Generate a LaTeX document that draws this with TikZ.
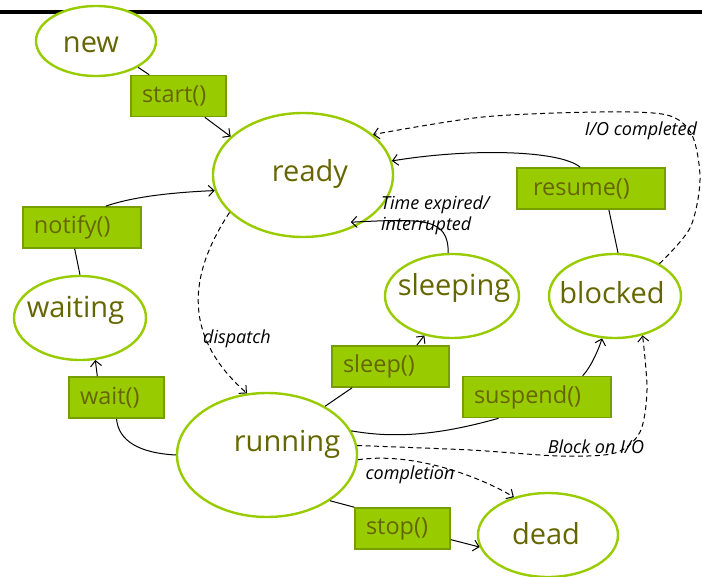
\documentclass[tikz,border=0pt]{standalone}
\usepackage{fontspec}
\setmainfont{Open Sans}
\usetikzlibrary{shapes.geometric,arrows.meta}
\definecolor{stateline}{RGB}{153,204,0}
\definecolor{opfill}{RGB}{153,204,0}
\definecolor{opline}{RGB}{119,158,0}
\definecolor{olivetext}{RGB}{102,102,0}

\begin{document}
\begin{tikzpicture}[x=1pt,y=-1pt,
	    state/.style={ellipse,draw=stateline,line width=2.4pt,fill=white,inner sep=0pt},
	    sname/.style={text=olivetext,font=\fontsize{29}{32}\selectfont},
	    op/.style={rectangle,fill=opfill,draw=opline,line width=1.6pt,inner xsep=11pt,inner ysep=0pt,
	        minimum height=41pt,align=left,text=olivetext,font=\fontsize{23.5}{26}\selectfont},
	    trans/.style={line width=1pt,-{Straight Barb[length=5.5pt,width=11pt]}},
	    dtrans/.style={trans,dash pattern=on 5pt off 3.5pt},
	    lbl/.style={inner sep=0pt,font=\fontsize{18}{21}\selectfont\itshape}]
	    \useasboundingbox (0,0) rectangle (702,577);
	    \draw [line width=4pt] (0,12) -- (702,12);
	    \node (new) [state,minimum width=120pt,minimum height=70pt,label={[sname,xshift=-5pt,yshift=-4pt]center:new}] at (96,41) {};
	    \node (ready) [state,minimum width=180pt,minimum height=124pt,label={[sname,xshift=7pt,yshift=1.5pt]center:ready}] at (303,175) {};
	    \node (running) [state,minimum width=180pt,minimum height=124pt,label={[sname,xshift=20pt,yshift=10.5pt]center:running}] at (267,455) {};
	    \node (sleeping) [state,minimum width=134pt,minimum height=84pt,label={[sname,xshift=2pt,yshift=8.5pt]center:sleeping}] at (452,296) {};
	    \node (blocked) [state,minimum width=132pt,minimum height=84pt,label={[sname,xshift=-3pt,yshift=3pt]center:blocked}] at (615,296) {};
	    \node (waiting) [state,minimum width=132pt,minimum height=84pt,label={[sname,xshift=-4.5pt,yshift=7.5pt]center:waiting}] at (80,318) {};
	    \node (dead) [state,minimum width=140pt,minimum height=84pt,label={[sname,xshift=-2pt,yshift=1pt]center:dead}] at (548,535) {};
	    \node (start) [op,text width=73pt] at (178.5,96) {start()};
	    \node (resume) [op,text width=126pt] at (591,188.5) {\hspace*{5pt}resume()};
	    \node (notify) [op,text width=96pt] at (82,227.5) {notify()};
	    \node (wait) [op,text width=73pt] at (116.5,397.5) {wait()};
	    \node (sleep) [op,text width=95pt] at (390.5,366.5) {sleep()};
	    \node (suspend) [op,text width=126pt] at (537,397) {suspend()};
	    \node (stop) [op,text width=73pt] at (402.5,528.5) {stop()};
	    \draw [line width=1pt] (new.328) -- (start.144.5);
	    \draw [trans] (start.321.6) -- (ready.152.5);
	    \draw [line width=1pt] (waiting.90) -- (notify.251);
	    \draw [trans] (notify.42.5) .. controls +(26,-9) and +(-46,2) .. (ready.190);
	    \draw [line width=1pt] (running.180) .. controls +(-37,-2) and +(2,22) .. (wait.south);
	    \draw [trans] (wait.132) -- (waiting.290);
	    \draw [line width=1pt] (running.40) -- (sleep.209);
	    \draw [trans] (sleep.39) -- (sleeping.235);
	    \draw [line width=1pt] (running.16) .. controls +(50,9) and +(-50,14) .. (suspend.209.6);
	    \draw [trans] (suspend.25) .. controls +(8,-8) and +(-3,10) .. (blocked.253);
	    \draw [line width=1pt] (blocked.86) -- (resume.310);
	    \draw [trans] (resume.117) .. controls +(-20,-17) and +(79,-13) .. (ready.9);
	    \draw [trans,shorten >=-14pt] (sleeping.95) .. controls +(0,-35) and +(60,-3) .. (ready.323.5);
	    \draw [line width=1pt] (running.324.5) -- (stop.north west);
	    \draw [trans] (stop.347.5) -- (dead.190);
	    \draw [dtrans] (ready.207) .. controls (195,265) and (175,330) .. (running.108);
	    \draw [dtrans] (running.357) .. controls (410,452) and (475,474) .. (dead.132);
	    \draw [dtrans] plot [smooth] coordinates {(running.6) (470,450) (560,456) (615,453) (640,432) (647,390) (blocked.305)};
	    \draw [dtrans] plot [smooth] coordinates {(blocked.36) (690,228) (700,180) (692,135) (667,115) (600,112) (483,117) (ready.30)};
	    \node (dispatchlbl) [lbl] at (237,339) {dispatch};
	    \node (timelbl) [lbl,anchor=west,align=left] at (381,215) {Time expired/\\interrupted};
	    \node (iodonelbl) [lbl] at (641,131) {I/O completed};
	    \node (blockiolbl) [lbl] at (596,447) {Block on I/O};
	    \node (completionlbl) [lbl] at (410,475) {completion};
\end{tikzpicture}
\end{document}
